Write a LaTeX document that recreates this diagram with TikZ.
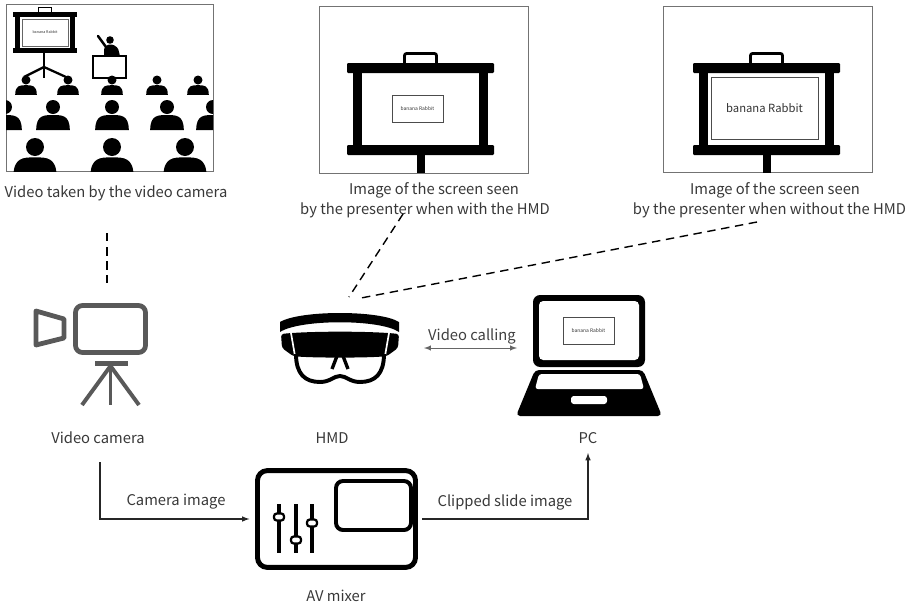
\documentclass[tikz,border=0pt]{standalone}
\usepackage{fontspec}
\setmainfont{Noto Sans CJK JP}

\begin{document}
\begin{tikzpicture}[x=0.025cm, y=-0.025cm]
		\tikzstyle {panel line} = [draw=black!55, line width=0.6pt]
		\tikzstyle {caption} = [text=black!78, font=\fontsize{10.5}{14.2}\selectfont, align=center]
		\tikzstyle {slide text} = [text=black!80, font=\fontsize{3.5}{4}\selectfont]
		\tikzstyle {sight line} = [line width=1pt, dash pattern=on 6pt off 4pt]
		\tikzstyle {signal line} = [line width=0.8pt, black!85]
		\tikzstyle {icon grey} = [draw=black!65, line width=3.4pt, line join=round]

		\useasboundingbox (0,0) rectangle (910,606);

		% lecture hall
		\draw[panel line] (6,4) rectangle (213,171);
		\begin{scope}
			\clip (6,4) rectangle (213,171);
			\fill (13,12) rectangle (77,17);
			\draw[line width=1.2pt] (38.5,12) -- (38.5,7.5) -- (51.5,7.5) -- (51.5,12);
			\fill (13,48) rectangle (77,53);
			\fill (15,17) rectangle (20,48);
			\fill (70,17) rectangle (75,48);
			\draw[black!60, line width=0.4pt] (22,19) rectangle (68,46);
			\node[slide text, font=\fontsize{2.6}{3}\selectfont] (hall slide) at (45,32) {banana Rabbit};
			\draw[line width=1.6pt] (44,53) -- (44,78);
			\draw[line width=1.6pt] (24,77) -- (44,67) -- (66,77);

			\fill (110,40) circle (3.8);
			\fill[rounded corners=1pt] (104,56) -- (104,48) -- (108,44.5) -- (113,44.5) -- (118,48) -- (120,56) -- cycle;
			\draw[line width=1.8pt, line cap=round] (106,47) -- (98,36);
			\filldraw[fill=white, line width=0.8pt] (93,56) rectangle (126,78);

			\foreach \x/\y/\r in {26/80/4.5, 68/80/4.5, 112/80/4.5, 157/80/4.5, 198/80/4.5,
					5/107/7, 53/107/7, 112/107/7, 167/107/7, 213/107/7,
					35/147/9, 112/147/9, 185/147/9}
			{
				\fill (\x,\y) circle (\r);
				\fill (\x-2.4*\r,\y+3.3*\r) .. controls (\x-2.4*\r,\y+1.15*\r) and (\x-1.3*\r,\y+1.15*\r) .. (\x,\y+1.15*\r)
					.. controls (\x+1.3*\r,\y+1.15*\r) and (\x+2.4*\r,\y+1.15*\r) .. (\x+2.4*\r,\y+3.3*\r) -- cycle;
			}
		\end{scope}
		\node[caption] (shot caption) at (116,193) {Video taken by the video camera};

		% screens seen by the presenter
		\draw[panel line] (319,6) rectangle (528,173);
		\draw[panel line] (663,6) rectangle (872,172);
		\foreach \dx in {0,346}
		{
			\fill[rounded corners=0.8pt] (347+\dx,63) rectangle (494+\dx,73);
			\draw[line width=2pt, rounded corners=1.5pt] (404.5+\dx,63) -- (404.5+\dx,53.5) -- (436.5+\dx,53.5) -- (436.5+\dx,63);
			\fill (353+\dx,73) rectangle (362+\dx,145);
			\fill (479+\dx,73) rectangle (488+\dx,145);
			\fill[rounded corners=0.8pt] (347+\dx,145) rectangle (494+\dx,155);
			\fill (416.5+\dx,155) rectangle (424.5+\dx,173);
		}
		\draw[black!70, line width=0.5pt] (392,95) rectangle (443,122);
		\node[slide text] (hmd slide) at (417.5,108.5) {banana Rabbit};
		\draw[black!70, line width=0.5pt] (711,77) rectangle (818,139);
		\node[slide text, font=\fontsize{8}{10}\selectfont] (plain slide) at (764.5,108) {banana Rabbit};

		\node[caption] (with caption) at (434,190) {Image of the screen seen};
		\node[caption] (with caption 2) at (425,210) {by the presenter when with the HMD};
		\node[caption] (without caption) at (775,190) {Image of the screen seen};
		\node[caption] (without caption 2) at (769.5,210) {by the presenter when without the HMD};

		\coordinate (shot end) at (107,233);
		\coordinate (camera top) at (107,283);
		\coordinate (with end) at (403,214);
		\coordinate (hmd left) at (349,297);
		\coordinate (without end) at (757,222);
		\coordinate (hmd right) at (361,298);
		\draw[sight line] (shot end) -- (camera top);
		\draw[sight line] (with end) -- (hmd left);
		\draw[sight line] (without end) -- (hmd right);

		% video camera
		\draw[icon grey] (36,311) -- (64,319) -- (64,338) -- (36,345) -- cycle;
		\draw[icon grey, rounded corners=5pt] (75.5,305.5) rectangle (145.5,352.5);
		\fill[black!65] (95,361) rectangle (128,366);
		\draw[black!65, line width=2.8pt] (82,405) -- (110.5,366) -- (139,405);
		\draw[black!65, line width=2.8pt] (110.5,366) -- (110.5,405);
		\node[caption] (camera) at (98,438) {Video camera};

		% head mounted display
		\fill (280,322) .. controls (300,310) and (380,310) .. (399,322) -- (399,332)
			.. controls (380,319) and (300,319) .. (280,332) -- cycle;
		\fill[rounded corners=2pt] (281,334) .. controls (310,331) and (370,331) .. (399,334) -- (398,348) -- (387,356)
			.. controls (370,358) and (310,358) .. (293,356) -- (282,348) -- cycle;
		\draw[white, line width=1.2pt] (291,333) -- (295,356);
		\draw[white, line width=1.2pt] (389,333) -- (385,356);
		\draw[line width=2.8pt] (296,354) .. controls (296,374) and (305,382) .. (320,382)
			.. controls (330,382) and (334,376) .. (340,376)
			.. controls (346,376) and (350,382) .. (360,382)
			.. controls (375,382) and (384,374) .. (384,354);
		\draw[line width=2.4pt] (332,369) -- (337,356);
		\draw[line width=2.4pt] (348,369) -- (343,356);
		\node[caption] (hmd) at (332,438) {HMD};

		\coordinate (call left) at (424,348);
		\coordinate (call right) at (517,348);
		\draw[latex-latex, black!60, line width=0.7pt] (call left) -- (call right);
		\node[caption, text=black!75] (calling) at (472,336) {Video calling};

		% laptop
		\fill[rounded corners=5pt] (533,295) rectangle (645,367);
		\fill[white, rounded corners=3pt] (539,301) rectangle (639,360);
		\draw[black!70, line width=0.5pt] (563,317) rectangle (614,344);
		\node[slide text] (pc slide) at (588.5,330.5) {banana Rabbit};
		\fill[rounded corners=3pt] (535,370) -- (643,370) -- (662,416) -- (516,416) -- cycle;
		\fill[white, rounded corners=2pt] (539,374) -- (640,374) -- (644,389) -- (535,389) -- cycle;
		\fill[white, rounded corners=2pt] (571,396) rectangle (607,404);
		\node[caption] (pc) at (588,438) {PC};

		% AV mixer
		\node[draw, line width=3.5pt, rounded corners=7pt, minimum width=3.95cm, minimum height=2.42cm] (mixer) at (336.5,519) {};
		\draw[line width=2.8pt, rounded corners=5pt] (336,481) rectangle (411,530);
		\foreach \x/\k in {279/517, 296/540, 312/523}
		{
			\draw[line width=2.5pt] (\x,504) -- (\x,553);
			\draw[line width=1.6pt, fill=white, rounded corners=2pt] (\x-5,\k-3.5) rectangle (\x+5,\k+3.5);
		}
		\node[caption] (mixer label) at (336,596) {AV mixer};

		\coordinate (camera out) at (100,462);
		\coordinate (pc in) at (588,453);
		\draw[signal line, -latex, shorten >=4pt] (camera out) |- (mixer.west);
		\draw[signal line, -latex, shorten <=3pt] (mixer.east) -| (pc in);
		\node[caption] (camera label) at (176,502) {Camera image};
		\node[caption] (slide label) at (505,502) {Clipped slide image};

	\end{tikzpicture}
\end{document}
